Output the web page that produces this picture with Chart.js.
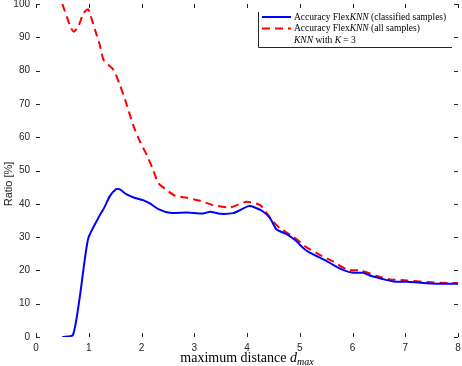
<!DOCTYPE html>
<html>
<head>
<meta charset="utf-8">
<script src="https://cdn.jsdelivr.net/npm/chart.js@4"></script>
<style>
  html, body { margin: 0; padding: 0; background: #fff; }
  #wrap { width: 462px; height: 366px; }
</style>
</head>
<body>
<div id="wrap"><canvas id="myChart" width="462" height="366"></canvas></div>
<script>
// data
var xTicks = [0, 1, 2, 3, 4, 5, 6, 7, 8];
var yTicks = [0, 10, 20, 30, 40, 50, 60, 70, 80, 90, 100];

// Accuracy FlexKNN (classified samples)
var blueX = [0.5, 0.7, 0.83, 0.99, 1.21, 1.29, 1.4, 1.52, 1.59, 1.72, 1.85, 2.03, 2.16, 2.32, 2.54, 2.86, 3.17, 3.3, 3.49, 3.74, 3.87, 4.03, 4.15, 4.31, 4.44, 4.56, 4.75, 4.91, 5.1, 5.29, 5.48, 5.64, 5.83, 6.02, 6.2, 6.36, 6.55, 6.77, 7.03, 7.28, 7.6, 8.0];
var blueY = [0, 0.6, 12, 29.6, 36.6, 38.7, 42.3, 44.4, 44.3, 42.8, 41.9, 41.1, 40.1, 38.4, 37.3, 37.4, 37.1, 37.6, 37.0, 37.2, 38.1, 39.3, 38.9, 37.6, 35.6, 32.3, 30.9, 29.1, 26.3, 24.5, 23.1, 21.6, 20.1, 19.3, 19.3, 18.3, 17.5, 16.7, 16.6, 16.3, 16.0, 16.0];

// Accuracy FlexKNN (all samples)
var redX = [0.5, 0.64, 0.71, 0.8, 0.9, 0.99, 1.02, 1.12, 1.21, 1.28, 1.47, 1.59, 1.69, 1.78, 1.84, 1.97, 2.1, 2.22, 2.32, 2.48, 2.64, 2.86, 3.11, 3.36, 3.68, 3.99, 4.25, 4.47, 4.63, 4.88, 5.13, 5.39, 5.64, 5.89, 6.17, 6.46, 6.71, 7.03, 7.41, 7.79, 8.0];
var redY = [100, 93.7, 91.7, 93.2, 97.2, 98.4, 97.2, 92.2, 87.7, 83.2, 80.2, 75.7, 71.2, 66.7, 63.7, 58.7, 54.7, 50.2, 46.2, 44.1, 42.4, 41.8, 40.9, 39.6, 38.9, 40.6, 39.6, 35.1, 32.6, 30.1, 26.9, 24.6, 22.6, 20.3, 19.9, 18.3, 17.3, 17.0, 16.5, 16.2, 16.2];

// legend texts, parts in italic marked with *
var legendLabels = [
    ["Accuracy Flex", "*KNN", " (classified samples)"],
    ["Accuracy Flex", "*KNN", " (all samples)"],
    ["*KNN", " with ", "*K", " = 3"]
];

var tickColor = '#262626';

function toPoints(xs, ys) {
    var pts = [];
    for (var i = 0; i < xs.length; i++) {
        pts.push({x: xs[i], y: ys[i]});
    }
    return pts;
}

// ticks drawn inside the plot on all four sides
var innerTicks = {
    id: 'innerTicks',
    beforeDatasetsDraw: function (chart) {
        var ctx = chart.ctx, a = chart.chartArea;
        var sx = chart.scales.x, sy = chart.scales.y;
        var len = 4;
        ctx.save();
        ctx.strokeStyle = tickColor;
        ctx.lineWidth = 1;
        ctx.beginPath();
        xTicks.forEach(function (v) {
            var px = Math.round(sx.getPixelForValue(v)) + 0.5;
            ctx.moveTo(px, a.bottom); ctx.lineTo(px, a.bottom - len);
            ctx.moveTo(px, a.top); ctx.lineTo(px, a.top + len);
        });
        yTicks.forEach(function (v) {
            var py = Math.round(sy.getPixelForValue(v)) + 0.5;
            ctx.moveTo(a.left, py); ctx.lineTo(a.left + len, py);
            ctx.moveTo(a.right, py); ctx.lineTo(a.right - len, py);
        });
        ctx.stroke();
        ctx.restore();
    }
};

// axis titles and legend
var extras = {
    id: 'extras',
    afterDraw: function (chart) {
        var ctx = chart.ctx, a = chart.chartArea;
        ctx.save();

        // y title
        ctx.fillStyle = tickColor;
        ctx.font = '11px "Liberation Sans", Arial, sans-serif';
        ctx.textAlign = 'center';
        ctx.textBaseline = 'middle';
        ctx.translate(9, 184);
        ctx.rotate(-Math.PI / 2);
        ctx.fillText('Ratio [%]', 0, 0);
        ctx.setTransform(1, 0, 0, 1, 0, 0);

        // x title with subscript
        var serif = '"Liberation Serif", "Times New Roman", serif';
        var main = 'maximum distance ';
        ctx.textAlign = 'left';
        ctx.textBaseline = 'alphabetic';
        ctx.fillStyle = '#000';
        ctx.font = '14px ' + serif;
        var w1 = ctx.measureText(main).width;
        ctx.font = 'italic 14px ' + serif;
        var w2 = ctx.measureText('d').width;
        ctx.font = 'italic 10px ' + serif;
        var w3 = ctx.measureText('max').width;
        var x0 = (a.left + a.right) / 2 - (w1 + w2 + w3) / 2;
        var base = 362;
        ctx.font = '14px ' + serif;
        ctx.fillText(main, x0, base);
        ctx.font = 'italic 14px ' + serif;
        ctx.fillText('d', x0 + w1, base);
        ctx.font = 'italic 10px ' + serif;
        ctx.fillText('max', x0 + w1 + w2, base + 3);

        // legend box (left and bottom edges)
        var lx = 258, ly = 12, lw = 194, lh = 35;
        ctx.strokeStyle = '#262626';
        ctx.lineWidth = 1;
        ctx.beginPath();
        ctx.moveTo(lx + 0.5, ly);
        ctx.lineTo(lx + 0.5, ly + lh + 0.5);
        ctx.lineTo(lx + lw, ly + lh + 0.5);
        ctx.stroke();

        var rows = [17, 28.5, 40];
        chart.data.datasets.forEach(function (ds, i) {
            var y = rows[i];
            if (ds.data.length) {
                ctx.strokeStyle = ds.borderColor;
                ctx.lineWidth = ds.borderWidth;
                ctx.setLineDash(ds.borderDash || []);
                ctx.beginPath();
                ctx.moveTo(262, y);
                ctx.lineTo(291, y);
                ctx.stroke();
                ctx.setLineDash([]);
            }
            var tx = 294;
            ctx.fillStyle = '#000';
            ctx.textBaseline = 'middle';
            legendLabels[i].forEach(function (part) {
                var it = part.charAt(0) == '*';
                var s = it ? part.slice(1) : part;
                ctx.font = (it ? 'italic ' : '') + '9.5px ' + serif;
                ctx.fillText(s, tx, y);
                tx += ctx.measureText(s).width;
            });
        });
        ctx.restore();
    }
};

var data = {
    datasets: [
        {
            label: 'Accuracy FlexKNN (classified samples)',
            data: toPoints(blueX, blueY),
            borderColor: '#0000ff',
            borderWidth: 2,
            pointRadius: 0,
            tension: 0.2
        },
        {
            label: 'Accuracy FlexKNN (all samples)',
            data: toPoints(redX, redY),
            borderColor: '#ff0000',
            borderWidth: 2,
            borderDash: [8, 5],
            pointRadius: 0,
            tension: 0.2
        },
        {
            label: 'KNN with K = 3',
            data: [],
            borderColor: '#00aa00',
            borderWidth: 2,
            pointRadius: 0
        }
    ]
};

function noPad(s) {
    s.paddingTop = 0; s.paddingBottom = 0;
    s.paddingLeft = 0; s.paddingRight = 0;
}

var ctx = document.getElementById("myChart").getContext("2d");
var myChart = new Chart(ctx, {
    type: 'line',
    data: data,
    options: {
        responsive: false,
        animation: false,
        layout: { padding: { top: 4, right: 4, left: 0, bottom: 0 } },
        plugins: {
            legend: { display: false },
            tooltip: { enabled: false }
        },
        scales: {
            x: {
                type: 'linear',
                min: 0, max: 8,
                afterBuildTicks: function (s) { s.ticks = xTicks.map(function (v) { return {value: v}; }); },
                afterFit: function (s) { s.height = 29; noPad(s); },
                grid: { display: false, drawTicks: false },
                border: { display: false },
                ticks: {
                    color: tickColor,
                    padding: 5,
                    maxRotation: 0,
                    font: { family: '"Liberation Sans", Arial, sans-serif', size: 10 }
                }
            },
            y: {
                min: 0, max: 100,
                afterBuildTicks: function (s) { s.ticks = yTicks.map(function (v) { return {value: v}; }); },
                afterFit: function (s) { s.width = 36; noPad(s); },
                grid: { display: false, drawTicks: false },
                border: { display: false },
                ticks: {
                    color: tickColor,
                    padding: 6,
                    font: { family: '"Liberation Sans", Arial, sans-serif', size: 10 }
                }
            }
        }
    },
    plugins: [innerTicks, extras]
});
</script>
</body>
</html>
